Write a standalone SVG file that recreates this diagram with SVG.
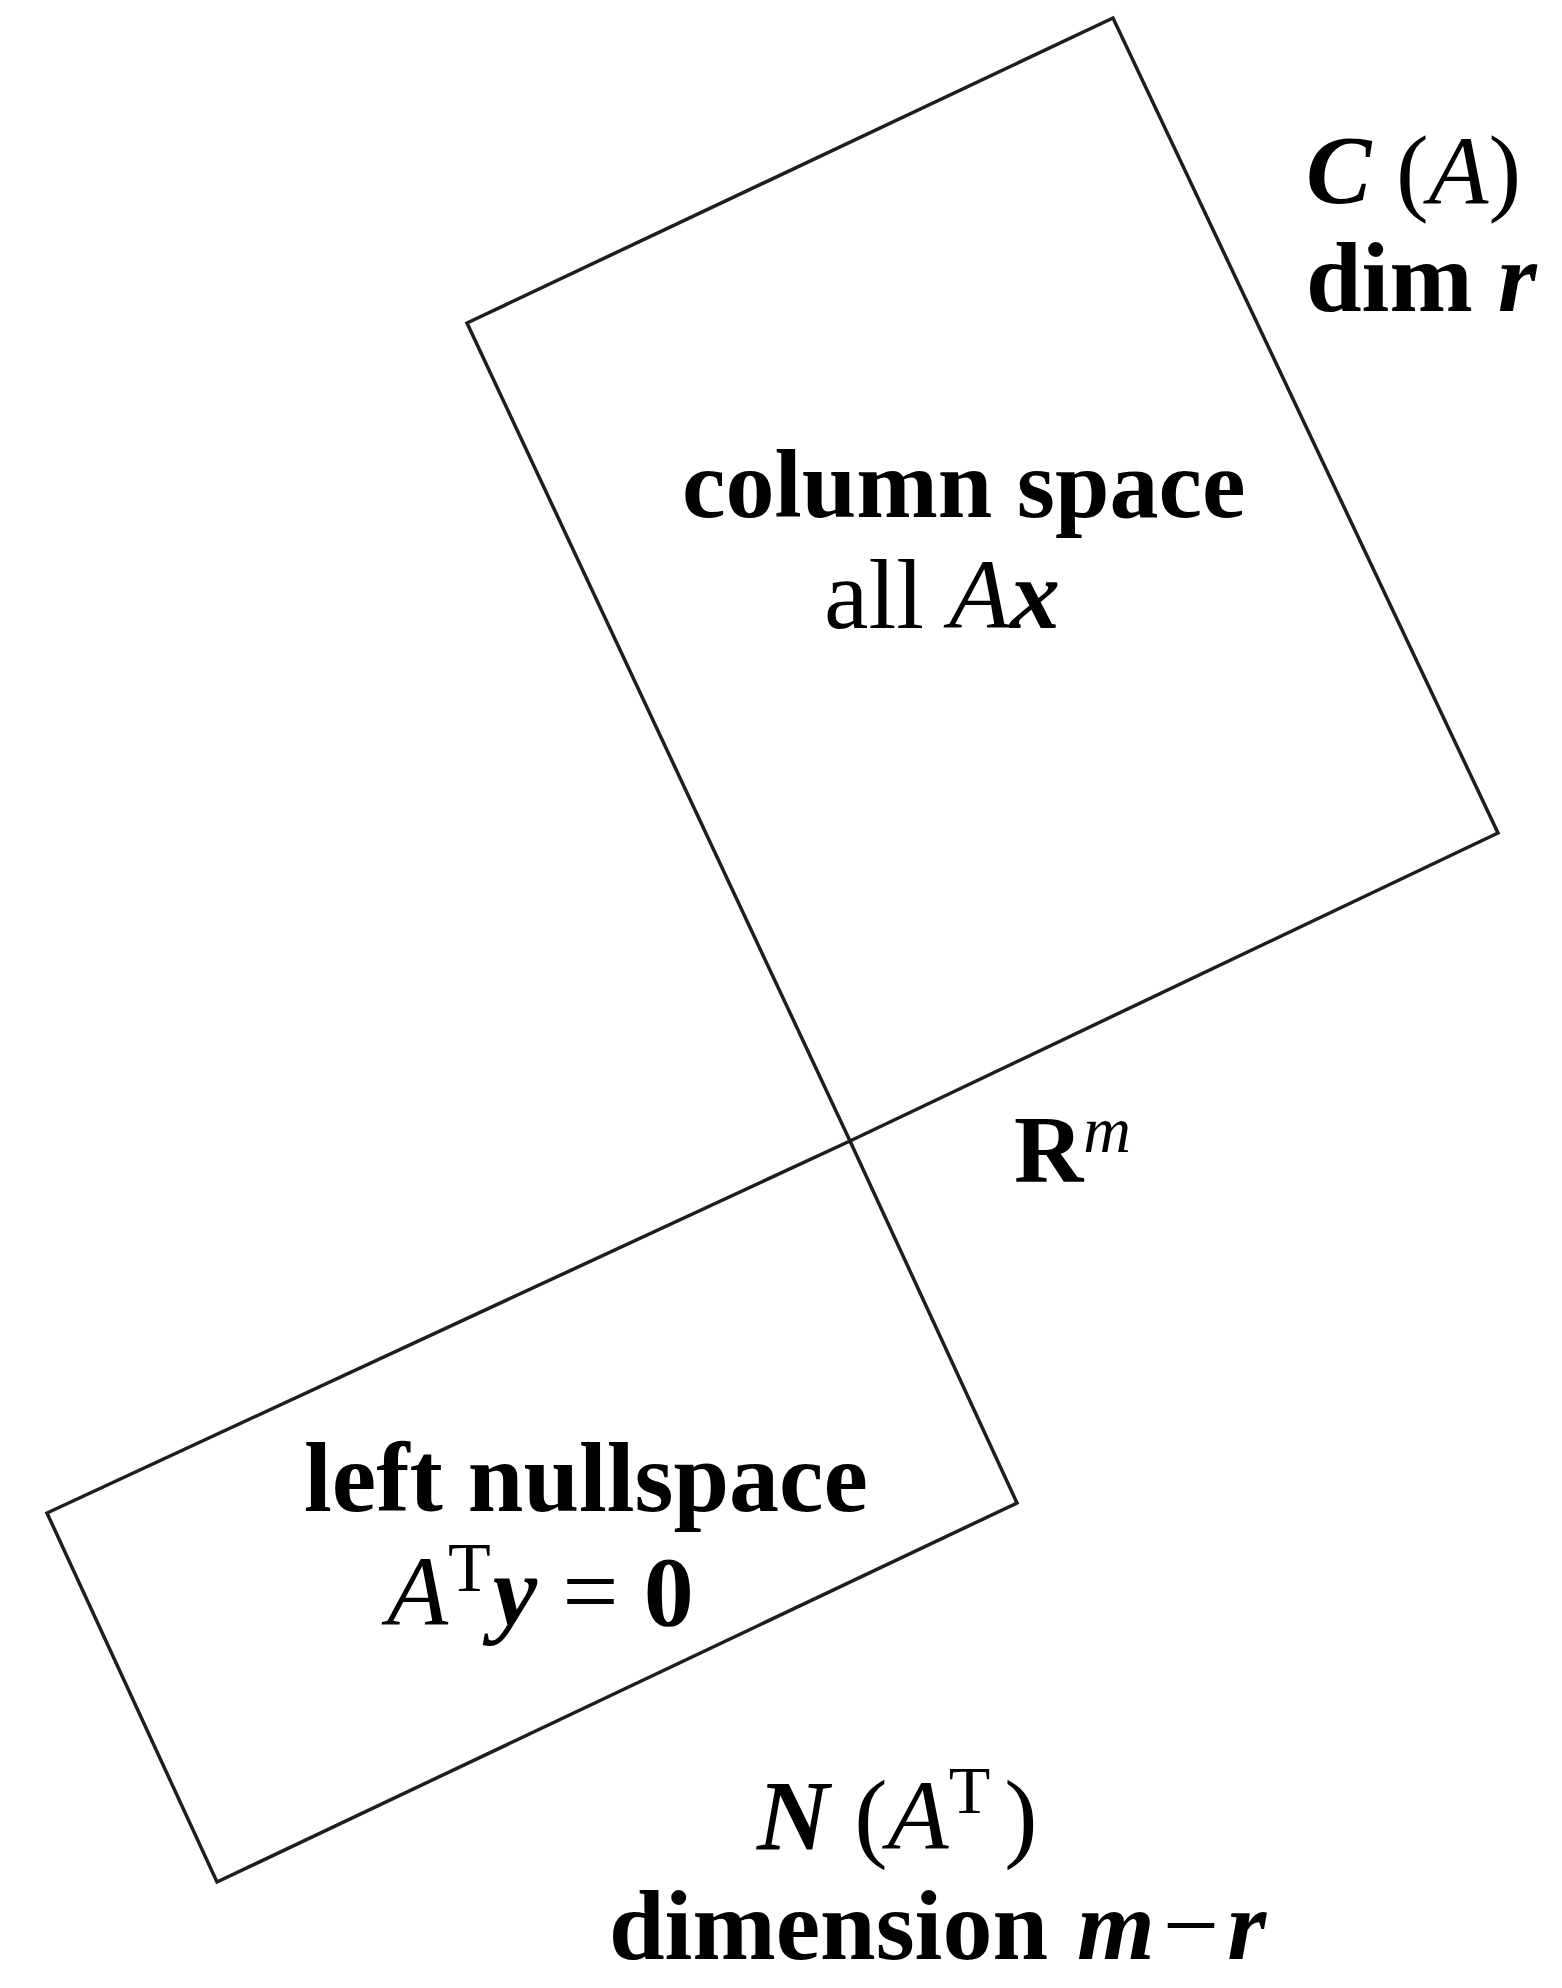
<svg xmlns="http://www.w3.org/2000/svg" width="1562" height="1988" viewBox="0 0 1562 1988">
<style>
.box{fill:none;stroke:#1e1e1e;stroke-width:3.5;stroke-linejoin:miter}
text{font-family:"Liberation Serif","Times New Roman",serif;font-size:100px;fill:#000}
.b{font-weight:bold}
.i{font-style:italic}
.bi{font-weight:bold;font-style:italic}
.r{font-weight:normal;font-style:normal}
</style>
<rect width="1562" height="1988" fill="#fff"/>
<g id="column-space">
<polygon class="box" points="467,323 1113,18 1498,833 850,1141"/>
<text x="682" y="517" class="b" style="font-size:98px">column space</text>
<text x="824" y="628">all <tspan class="i">A</tspan><tspan class="bi">x</tspan></text>
</g>
<g id="label-CA">
<text x="1306" y="203" style="font-size:98px"><tspan class="bi">C</tspan> (<tspan class="i">A</tspan>)</text>
<text x="1306" y="311" class="b">dim <tspan class="bi">r</tspan></text>
</g>
<g id="label-Rm">
<text x="1014" y="1182" style="font-size:96px"><tspan class="b">R</tspan><tspan class="i" style="font-size:66px" dy="-30">m</tspan></text>
</g>
<g id="left-nullspace">
<polygon class="box" points="850,1141 1017,1503 217,1882 47,1513"/>
<text x="304" y="1511" class="b">left nullspace</text>
<text x="387" y="1625"><tspan class="i">A</tspan><tspan style="font-size:70px" dy="-34">T</tspan><tspan class="bi" dy="34" dx="2">y</tspan> = <tspan class="b">0</tspan></text>
</g>
<g id="label-NAT">
<text x="757" y="1849"><tspan class="bi">N</tspan> (<tspan class="i">A</tspan><tspan style="font-size:68px" dy="-36">T</tspan><tspan dy="36" dx="14">)</tspan></text>
<text x="609" y="1959" class="b">dimension <tspan class="bi" dx="4">m</tspan><tspan class="r" dx="8">−</tspan><tspan class="bi" dx="8">r</tspan></text>
</g>
</svg>
